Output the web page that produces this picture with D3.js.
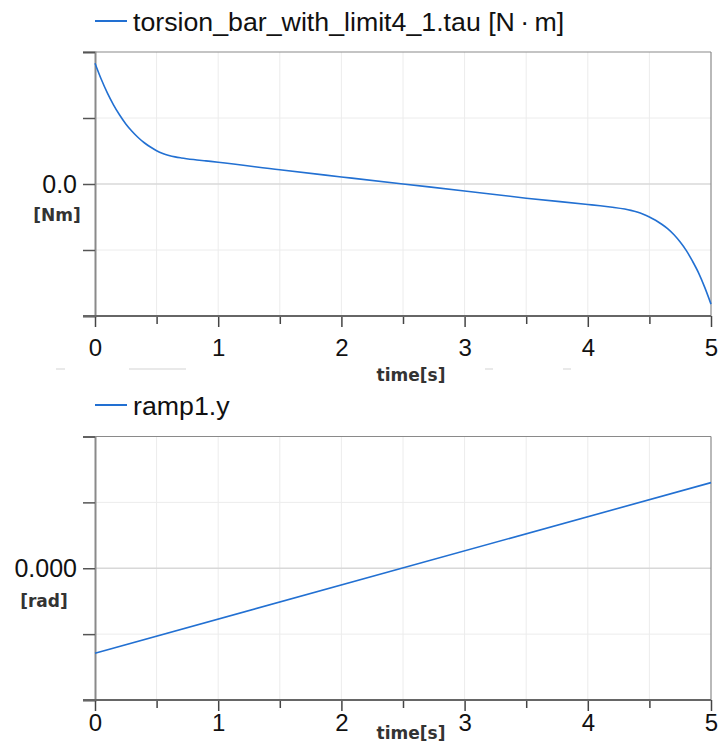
<!DOCTYPE html>
<html>
<head>
<meta charset="utf-8">
<script src="https://cdn.jsdelivr.net/npm/d3@7"></script>
<style>
  html, body { margin: 0; padding: 0; background: #ffffff; }
  svg { display: block; }
</style>
</head>
<body>
<svg id="chart" width="719" height="745"></svg>
<script>
// ---------- data ----------
const timeTicks = [0, 1, 2, 3, 4, 5];
const timeMinorTicks = [0.5, 1.5, 2.5, 3.5, 4.5];

// torsion_bar_with_limit4_1.tau (in units of one y grid step)
const tauTime = [0, 0.05, 0.1, 0.15, 0.2, 0.25, 0.3, 0.35, 0.4, 0.45, 0.5, 0.55, 0.6, 0.65, 0.7, 0.8, 0.9, 1.0,
                 1.5, 2.0, 2.5, 3.0, 3.5, 4.0, 4.1, 4.2, 4.3, 4.35, 4.4, 4.45, 4.5, 4.55, 4.6, 4.65, 4.7, 4.75,
                 4.8, 4.85, 4.9, 4.95, 5.0];
const tauValue = [1.83, 1.59, 1.38, 1.20, 1.045, 0.91, 0.80, 0.705, 0.625, 0.56, 0.505, 0.463, 0.433, 0.411, 0.395, 0.370, 0.350, 0.330,
                  0.215, 0.107, 0.0, -0.105, -0.215, -0.31, -0.33, -0.352, -0.38, -0.40, -0.425, -0.458, -0.50, -0.55, -0.61, -0.68, -0.77, -0.88,
                  -1.01, -1.17, -1.35, -1.57, -1.82];
const tauTicks = [-2, -1, 0, 1, 2];
const tauLabelTicks = [0];

// ramp1.y
const rampTime = [0, 5];
const rampValue = [-0.00129, 0.00130];
const rampTicks = [-0.002, -0.001, 0, 0.001, 0.002];
const rampLabelTicks = [0];

// ---------- drawing ----------
const svg = d3.select("#chart");
const lineColor = "#2270d2";
const xLeft = 95, xRight = 711;
const sans = "Liberation Sans, Arial, sans-serif";

// faint separator fragments under the upper time axis
const fragments = [[56, 65], [129, 186], [485, 493], [563, 571]];
svg.append("g").selectAll("line").data(fragments).join("line")
  .attr("x1", d => d[0]).attr("x2", d => d[1]).attr("y1", 369).attr("y2", 369)
  .attr("stroke", "#e2e2e2").attr("stroke-width", 1.5);

function panel(opts) {
  const g = svg.append("g");
  const x = d3.scaleLinear().domain([0, 5]).range([xLeft, xRight]);
  const y = d3.scaleLinear().domain(opts.yDomain).range([opts.bottom, opts.top]);

  // vertical grid (every 0.5)
  g.append("g").selectAll("line")
    .data(timeTicks.concat(timeMinorTicks).filter(d => d > 0 && d < 5))
    .join("line")
    .attr("x1", d => x(d)).attr("x2", d => x(d))
    .attr("y1", opts.top).attr("y2", opts.bottom)
    .attr("stroke", "#ececec").attr("stroke-width", 1);

  // horizontal grid
  g.append("g").selectAll("line")
    .data(opts.yTicks.slice(1, -1))
    .join("line")
    .attr("x1", xLeft).attr("x2", xRight)
    .attr("y1", d => y(d)).attr("y2", d => y(d))
    .attr("stroke", d => d === 0 ? "#d8d8d8" : "#ececec").attr("stroke-width", d => d === 0 ? 1.5 : 1);

  // top border
  g.append("line").attr("x1", 83).attr("x2", xRight).attr("y1", opts.top).attr("y2", opts.top)
    .attr("stroke", "#8a8a8a").attr("stroke-width", 1.2);
  // right border
  g.append("line").attr("x1", xRight).attr("x2", xRight).attr("y1", opts.top).attr("y2", opts.bottom)
    .attr("stroke", "#8a8a8a").attr("stroke-width", 1.2);

  // y axis
  const yAxis = d3.axisLeft(y).tickValues(opts.yTicks).tickSize(12).tickFormat("");
  const ya = g.append("g").attr("transform", `translate(${xLeft},0)`).call(yAxis);
  ya.select(".domain").attr("stroke", "#8a8a8a").attr("stroke-width", 2);
  ya.selectAll(".tick line").attr("stroke", "#555").attr("stroke-width", 1.5);

  // y labels
  g.append("g").selectAll("text")
    .data(opts.yLabelTicks)
    .join("text")
    .attr("x", 77).attr("y", d => y(d) + opts.labelDy)
    .attr("text-anchor", "end")
    .attr("font-family", sans)
    .attr("font-size", 25).attr("fill", "#111")
    .text(d => d3.format(opts.yFormat)(d));

  g.append("text")
    .attr("x", opts.unitX).attr("y", opts.unitY)
    .attr("text-anchor", "middle")
    .attr("font-family", "DejaVu Sans, sans-serif").attr("font-weight", "bold")
    .attr("font-size", 17).attr("fill", "#333")
    .text(opts.unit);

  // x axis
  const xAxis = d3.axisBottom(x).tickValues(timeTicks).tickSize(11).tickFormat(d3.format("d"));
  const xa = g.append("g").attr("transform", `translate(0,${opts.bottom})`).call(xAxis);
  xa.select(".domain").remove();
  xa.selectAll(".tick line").attr("stroke", "#444").attr("stroke-width", 1.5);
  xa.selectAll(".tick text")
    .attr("font-family", sans)
    .attr("font-size", 24).attr("fill", "#111")
    .attr("dy", null).attr("y", opts.tickLabelDy);
  const xMinor = d3.axisBottom(x).tickValues(timeMinorTicks).tickSize(8).tickFormat("");
  const xm = g.append("g").attr("transform", `translate(0,${opts.bottom})`).call(xMinor);
  xm.select(".domain").remove();
  xm.selectAll(".tick line").attr("stroke", "#444").attr("stroke-width", 1.5);

  g.append("line").attr("x1", 83).attr("x2", xRight).attr("y1", opts.bottom).attr("y2", opts.bottom)
    .attr("stroke", "#666").attr("stroke-width", 2);

  g.append("text")
    .attr("x", 411).attr("y", opts.timeY)
    .attr("text-anchor", "middle")
    .attr("font-family", "DejaVu Sans, sans-serif").attr("font-weight", "bold")
    .attr("font-size", 17).attr("fill", "#333")
    .text("time[s]");

  // data line
  const pts = opts.t.map((t, i) => [t, opts.v[i]]);
  g.append("path")
    .datum(pts)
    .attr("fill", "none")
    .attr("stroke", lineColor).attr("stroke-width", 1.6)
    .attr("d", d3.line().x(d => x(d[0])).y(d => y(d[1])).curve(d3.curveMonotoneX));

  // legend
  g.append("line").attr("x1", 95).attr("x2", 127).attr("y1", opts.legendY).attr("y2", opts.legendY)
    .attr("stroke", lineColor).attr("stroke-width", 2);
  g.append("text")
    .attr("transform", `translate(133,${opts.legendY + 10}) scale(1.07,1)`)
    .attr("font-family", sans)
    .attr("font-size", 25).attr("fill", "#111")
    .text(opts.name);
}

panel({
  top: 52, bottom: 316, yDomain: [-2, 2], yTicks: tauTicks, yLabelTicks: tauLabelTicks, yFormat: ".1f",
  labelDy: 9, unit: "[Nm]", unitX: 57, unitY: 221, tickLabelDy: 40, timeY: 381,
  t: tauTime, v: tauValue, legendY: 21, name: "torsion_bar_with_limit4_1.tau [N\u2009\u00B7\u2009m]"
});

panel({
  top: 436.5, bottom: 700, yDomain: [-0.002, 0.002], yTicks: rampTicks, yLabelTicks: rampLabelTicks, yFormat: ".3f",
  labelDy: 9, unit: "[rad]", unitX: 44, unitY: 607, tickLabelDy: 31, timeY: 739,
  t: rampTime, v: rampValue, legendY: 405, name: "ramp1.y"
});
</script>
</body>
</html>
